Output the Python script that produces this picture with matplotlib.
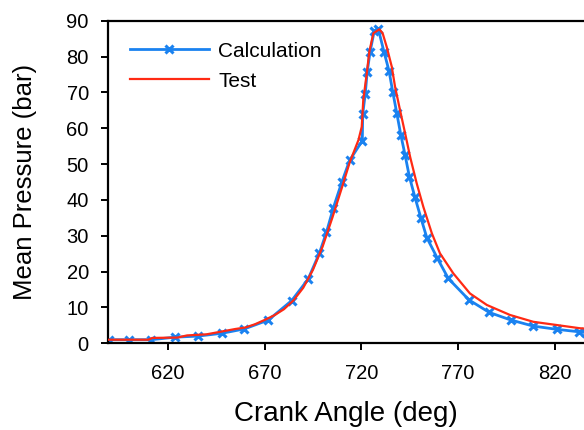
import matplotlib
matplotlib.use("Agg")
import matplotlib.pyplot as plt

plt.rcParams['font.family'] = ['Liberation Sans', 'DejaVu Sans']

# Calculation series (crank angle, pressure)
calc_angle = [589.5, 600.0, 611.5, 623.5, 635.5, 648.0, 659.5, 672.0, 684.0, 692.5,
              698.3, 702.0, 705.5, 710.0, 714.0, 720.5, 720.7, 722.0, 723.0, 724.5,
              726.6, 728.8, 731.7, 734.3, 736.2, 738.3, 740.4, 742.6, 744.8, 747.7,
              750.8, 753.8, 759.3, 764.9, 775.6, 786.1, 797.2, 808.8, 820.9, 832.6, 836.0]
calc_pressure = [1.0, 1.0, 1.0, 1.7, 2.0, 2.8, 4.0, 6.5, 11.9, 17.9,
                 25.1, 31.0, 37.7, 45.1, 51.1, 56.5, 63.9, 69.5, 75.6, 81.3,
                 87.0, 87.6, 81.3, 76.0, 70.2, 64.2, 58.1, 52.5, 46.5, 40.7,
                 34.9, 29.5, 23.7, 18.1, 12.1, 8.6, 6.5, 4.8, 3.9, 3.2, 3.0]

# Test series (crank angle, pressure)
test_angle = [589.0, 610.0, 612.0, 625.0, 630.0, 640.0, 645.0, 650.0, 655.0, 660.0,
              665.0, 670.0, 675.0, 680.0, 685.0, 690.0, 695.0, 700.0, 705.0, 710.0,
              714.0, 718.5, 720.2, 721.0, 722.8, 724.1, 726.2, 729.3, 731.0, 733.1,
              735.7, 737.4, 740.0, 742.6, 745.2, 748.6, 752.0, 756.4, 760.6, 767.5,
              776.1, 784.8, 796.8, 808.8, 820.9, 832.9, 836.0]
test_pressure = [1.0, 1.0, 1.5, 1.6, 2.2, 2.5, 3.0, 3.5, 4.0, 4.4,
                 5.3, 6.5, 7.8, 9.5, 12.0, 15.5, 20.5, 27.0, 35.0, 43.5,
                 50.5, 56.7, 60.4, 67.9, 75.3, 81.3, 86.5, 87.6, 86.5, 82.7,
                 77.2, 71.6, 65.0, 58.6, 52.0, 44.6, 38.1, 30.7, 25.1, 19.5,
                 13.9, 10.7, 7.9, 6.0, 5.1, 4.2, 4.1]

x_ticks = [620, 670, 720, 770, 820]
y_ticks = [0, 10, 20, 30, 40, 50, 60, 70, 80, 90]

fig = plt.figure(figsize=(5.84, 4.30), dpi=100)
ax = fig.add_axes([108.3 / 584, 1 - 343.3 / 430, 1 - 108.3 / 584, (343.3 - 20.7) / 430])

ax.plot(calc_angle, calc_pressure, color='#1a82f0', lw=2.0, marker='x', ms=6,
        mew=2.2, label='Calculation', zorder=2)
ax.plot(test_angle, test_pressure, color='#ff2a14', lw=1.6, label='Test', zorder=3)

ax.set_xlim(589.3, 835.0)
ax.set_ylim(0, 90)
ax.set_xticks(x_ticks)
ax.set_yticks(y_ticks)

for s in ['left', 'bottom', 'top']:
    ax.spines[s].set_linewidth(1.6)
ax.spines['right'].set_visible(False)

ax.tick_params(axis='both', direction='out', length=5, width=1.4, labelsize=14.5)
ax.tick_params(axis='x', pad=10)
ax.tick_params(axis='y', pad=9)

ax.set_xlabel('Crank Angle (deg)', fontsize=20, labelpad=13)
ax.set_ylabel('Mean Pressure (bar)', fontsize=18.5, labelpad=21)

ax.legend(loc='upper left', bbox_to_anchor=(0.045, 0.935), frameon=False,
          fontsize=15, handlelength=3.8, handletextpad=0.45, labelspacing=0.52,
          numpoints=1, borderaxespad=0, borderpad=0)

fig.savefig('out.png', dpi=100)
